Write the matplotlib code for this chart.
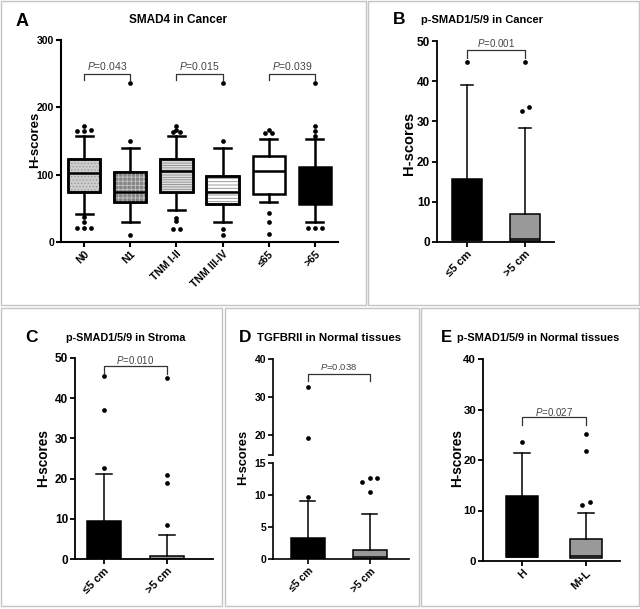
import numpy as np
import matplotlib
matplotlib.use('Agg')
import matplotlib.pyplot as plt
import matplotlib.patches as mpatches

plt.rcParams['font.family'] = ['Liberation Sans', 'DejaVu Sans']
plt.rcParams['mathtext.fontset'] = 'custom'
plt.rcParams['mathtext.it'] = 'Liberation Sans:italic'
plt.rcParams['mathtext.rm'] = 'Liberation Sans'
plt.rcParams['hatch.linewidth'] = 0.6

# ---- data ----
# A: SMAD4 in Cancer
a_groups = ['N0', 'N1', 'TNM I-II', 'TNM III-IV', '≤65', '>65']
a_q1 = [74, 59, 75, 57, 72, 56]
a_med = [102, 75, 105, 75, 105, 85]
a_q3 = [123, 104, 123, 98, 128, 111]
a_lo = [41, 30, 47, 29, 60, 30]
a_hi = [157, 140, 158, 140, 153, 153]
a_fliers = [[172, 165, 165, 167, 37, 30, 21, 21, 21],
            [236, 150, 10],
            [173, 167, 163, 163, 36, 31, 20, 20],
            [236, 150, 20, 11],
            [167, 162, 162, 43, 30, 12],
            [236, 173, 165, 158, 21, 21, 21]]
a_p = ['0.043', '0.015', '0.039']

# B: p-SMAD1/5/9 in Cancer
b_groups = ['≤5 cm', '>5 cm']
b_q1 = [0.4, 0.3]
b_med = [0.4, 0.8]
b_q3 = [15.7, 7.0]
b_hi = [39.0, 28.3]
b_fliers = [[44.7], [44.7, 33.7, 32.5]]

# C: p-SMAD1/5/9 in Stroma
c_groups = ['≤5 cm', '>5 cm']
c_q1 = [0, 0]
c_med = [0, 0]
c_q3 = [9.4, 0.7]
c_hi = [21.1, 5.9]
c_fliers = [[22.7, 37.1, 45.6], [8.5, 19.0, 21.0, 45.0]]

# D: TGFBRII in Normal tissues
d_groups = ['≤5 cm', '>5 cm']
d_q1 = [0, 0]
d_med = [0, 0.36]
d_q3 = [3.3, 1.46]
d_hi = [9.0, 7.0]
d_fliers = [[9.7, 19.2, 32.6], [10.5, 12.0, 12.7, 12.7]]

# E: p-SMAD1/5/9 in Normal tissues
e_groups = ['H', 'M+L']
e_q1 = [0.7, 0.5]
e_med = [0.7, 1.0]
e_q3 = [12.9, 4.4]
e_hi = [21.3, 9.5]
e_fliers = [[23.6], [11.1, 11.7, 21.7, 25.1]]

W, H = 640, 609
fig = plt.figure(figsize=(6.4, 6.09), dpi=100)


def px_axes(l, t, r, b):
    return fig.add_axes([l / W, 1 - b / H, (r - l) / W, (b - t) / H])


def spread(vals, tol, step):
    # horizontal spreading of outliers that sit at the same height
    groups = []
    for v in sorted(vals):
        if groups and v - groups[-1][-1] <= tol:
            groups[-1].append(v)
        else:
            groups.append([v])
    xs, ys = [], []
    for g in groups:
        n = len(g)
        for i, v in enumerate(g):
            xs.append((i - (n - 1) / 2) * step)
            ys.append(v)
    return np.array(xs), np.array(ys)


def draw_boxes(ax, q1, med, q3, lo, hi, fliers, colors, width, capw, lw,
               tol, step, ms, show_low=True):
    stats = []
    for i in range(len(q1)):
        stats.append(dict(q1=q1[i], med=med[i], q3=q3[i],
                          whislo=lo[i], whishi=hi[i], fliers=[]))
    pos = np.arange(1, len(q1) + 1)
    res = ax.bxp(stats, positions=pos, widths=width, capwidths=capw,
                 patch_artist=True, showfliers=False, manage_ticks=False,
                 boxprops=dict(edgecolor='black', linewidth=lw),
                 whiskerprops=dict(color='black', linewidth=lw),
                 capprops=dict(color='black', linewidth=lw),
                 medianprops=dict(color='black', linewidth=lw))
    for b, c in zip(res['boxes'], colors):
        b.set_facecolor(c)
    if not show_low:
        for w in res['whiskers'][0::2]:
            w.set_visible(False)
        for c in res['caps'][0::2]:
            c.set_visible(False)
    for p, f in zip(pos, fliers):
        dx, ys = spread(f, tol, step)
        ax.plot(p + dx, ys, 'o', color='black', ms=ms, mew=0, zorder=3)
    return res


def style_axes(ax, lw, fs):
    for s in ['top', 'right']:
        ax.spines[s].set_visible(False)
    for s in ['left', 'bottom']:
        ax.spines[s].set_linewidth(lw)
    ax.tick_params(direction='out', length=3.5, width=lw, labelsize=fs, pad=1.5)
    for lab in ax.get_yticklabels():
        lab.set_fontweight('bold')


def xlabels(ax, labels, fs):
    ax.set_xticks(np.arange(1, len(labels) + 1))
    ax.set_xticklabels(labels, rotation=45, ha='right', rotation_mode='anchor',
                       fontsize=fs, fontweight='bold')


def bracket(ax, x1, x2, ytop, yleg, ytext, p, fs):
    ax.plot([x1, x1, x2, x2], [yleg, ytop, ytop, yleg], color='#333333',
            lw=0.9, clip_on=False, zorder=3)
    ax.text((x1 + x2) / 2, ytext, r'$P$=' + p, ha='center', va='center',
            fontsize=fs, color='#444444')


# ---- panel borders ----
for l, t, r, b in [(1, 1, 366, 305), (368, 1, 639, 305), (1, 308, 222, 606),
                   (225, 308, 419, 606), (421, 308, 639, 606)]:
    fig.patches.append(mpatches.Rectangle((l / W, 1 - b / H), (r - l) / W,
                                          (b - t) / H, transform=fig.transFigure,
                                          facecolor='none', edgecolor='#c4c4c4',
                                          lw=1.0))

# ---- A ----
axA = px_axes(61, 40, 338, 242)
resA = draw_boxes(axA, a_q1, a_med, a_q3, a_lo, a_hi, a_fliers,
                  ['#cdcdcd', '#858585', '#dedede', 'white', 'white', 'black'],
                  0.7, 0.37, 1.8, 3.5, 0.15, 3.4)
hatches = [('.....', '#9a9a9a'), ('++++', '#c4c4c4'), ('-------', '#8c8c8c'),
           ('-----', '#8c8c8c'), None, None]
for b, h in zip(resA['boxes'], hatches):
    if h is None:
        continue
    axA.add_patch(mpatches.PathPatch(b.get_path(), facecolor='none',
                                     edgecolor=h[1], hatch=h[0], lw=0, zorder=2.02))
    axA.add_patch(mpatches.PathPatch(b.get_path(), facecolor='none',
                                     edgecolor='black', lw=1.8, zorder=2.03))
axA.set_xlim(0.5, 6.5)
axA.set_ylim(0, 300)
axA.set_yticks([0, 100, 200, 300])
style_axes(axA, 1.5, 7.5)
xlabels(axA, a_groups, 7.5)
for k, p in enumerate(a_p):
    bracket(axA, 2 * k + 1, 2 * k + 2, 250, 241, 261, p, 7.5)
fig.text(178 / W, 1 - 20 / H, 'SMAD4 in Cancer', ha='center', va='center',
         fontsize=8.5, fontweight='bold')
fig.text(22 / W, 1 - 21 / H, 'A', ha='center', va='center', fontsize=13,
         fontweight='bold')
fig.text(35 / W, 1 - 140 / H, 'H-scores', ha='center', va='center', rotation=90,
         fontsize=9.5, fontweight='bold')

# ---- B ----
axB = px_axes(437, 41, 554, 242)
draw_boxes(axB, b_q1, b_med, b_q3, b_q1, b_hi, b_fliers, ['black', '#999999'],
           0.52, 0.22, 1.1, 1.5, 0.12, 3.4, show_low=False)
axB.set_xlim(0.48, 2.5)
axB.set_ylim(0, 50)
axB.set_yticks(range(0, 51, 10))
style_axes(axB, 1.3, 8.5)
xlabels(axB, b_groups, 8)
bracket(axB, 1, 2, 47.8, 45.8, 49.4, '0.001', 7)
fig.text(482 / W, 1 - 20 / H, 'p-SMAD1/5/9 in Cancer', ha='center', va='center',
         fontsize=8, fontweight='bold')
fig.text(399 / W, 1 - 20 / H, 'B', ha='center', va='center', fontsize=12.5,
         fontweight='bold')
fig.text(409 / W, 1 - 143 / H, 'H-scores', ha='center', va='center', rotation=90,
         fontsize=10.5, fontweight='bold')

# ---- C ----
axC = px_axes(75, 358, 213, 559)
draw_boxes(axC, c_q1, c_med, c_q3, c_q1, c_hi, c_fliers, ['black', '#999999'],
           0.53, 0.24, 1.1, 1.5, 0.12, 3.4, show_low=False)
axC.set_xlim(0.54, 2.73)
axC.set_ylim(0, 50)
axC.set_yticks(range(0, 51, 10))
style_axes(axC, 1.3, 8.5)
xlabels(axC, c_groups, 8)
bracket(axC, 1, 2, 48.1, 46.0, 49.6, '0.010', 7)
fig.text(126 / W, 1 - 338 / H, 'p-SMAD1/5/9 in Stroma', ha='center', va='center',
         fontsize=7.8, fontweight='bold')
fig.text(32 / W, 1 - 337 / H, 'C', ha='center', va='center', fontsize=12.5,
         fontweight='bold')
fig.text(43 / W, 1 - 458 / H, 'H-scores', ha='center', va='center', rotation=90,
         fontsize=9.8, fontweight='bold')

# ---- D (broken axis) ----
axDu = px_axes(273, 359, 409, 455)
axDl = px_axes(273, 463, 409, 559)
for ax in (axDu, axDl):
    draw_boxes(ax, d_q1, d_med, d_q3, d_q1, d_hi, d_fliers, ['black', '#999999'],
               0.55, 0.24, 1.1, 1.0, 0.12, 3.4, show_low=False)
    ax.set_xlim(0.44, 2.63)
axDu.set_ylim(14.7, 40)
axDu.set_yticks([14.7, 20, 30, 40])
axDu.set_yticklabels(['', '20', '30', '40'])
axDl.set_ylim(0, 15)
axDl.set_yticks([0, 5, 10, 15])
style_axes(axDu, 1.2, 7.5)
style_axes(axDl, 1.2, 7.5)
axDu.spines['bottom'].set_visible(False)
axDu.set_xticks([])
xlabels(axDl, d_groups, 7.5)
bracket(axDu, 1, 2, 36.0, 34.1, 37.9, '0.038', 6.8)
fig.text(329.5 / W, 1 - 338 / H, 'TGFBRII in Normal tissues', ha='center',
         va='center', fontsize=8.2, fontweight='bold')
fig.text(245 / W, 1 - 337 / H, 'D', ha='center', va='center', fontsize=12.5,
         fontweight='bold')
fig.text(243 / W, 1 - 457 / H, 'H-scores', ha='center', va='center', rotation=90,
         fontsize=9.3, fontweight='bold')

# ---- E ----
axE = px_axes(483, 359, 620, 561)
draw_boxes(axE, e_q1, e_med, e_q3, e_q1, e_hi, e_fliers, ['black', '#999999'],
           0.5, 0.24, 1.1, 1.2, 0.12, 3.4, show_low=False)
axE.set_xlim(0.39, 2.53)
axE.set_ylim(0, 40)
axE.set_yticks(range(0, 41, 10))
style_axes(axE, 1.3, 8.2)
xlabels(axE, e_groups, 8)
bracket(axE, 1, 2, 28.5, 26.9, 29.6, '0.027', 7)
fig.text(538 / W, 1 - 338 / H, 'p-SMAD1/5/9 in Normal tissues', ha='center',
         va='center', fontsize=7.9, fontweight='bold')
fig.text(446 / W, 1 - 338 / H, 'E', ha='center', va='center', fontsize=12,
         fontweight='bold')
fig.text(457 / W, 1 - 458 / H, 'H-scores', ha='center', va='center', rotation=90,
         fontsize=9.8, fontweight='bold')

fig.savefig('out.png', dpi=100)
plt.close(fig)
